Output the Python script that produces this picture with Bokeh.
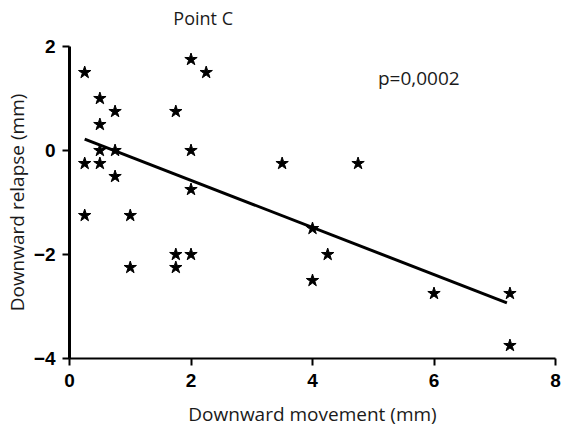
from bokeh.plotting import figure
from bokeh.models import Label, Range1d, FixedTicker
from bokeh.embed import file_html
from bokeh.resources import INLINE

# data
x_vals = [0.25, 0.25, 0.25,
          0.5, 0.5, 0.5, 0.5,
          0.75, 0.75, 0.75,
          1.0, 1.0,
          1.75, 1.75, 1.75,
          2.0, 2.0, 2.0, 2.0,
          2.25, 3.5, 4.75,
          4.0, 4.0, 4.25,
          6.0, 7.25, 7.25]
y_vals = [1.5, -0.25, -1.25,
          1.0, 0.5, 0.0, -0.25,
          0.75, 0.0, -0.5,
          -1.25, -2.25,
          0.75, -2.0, -2.25,
          1.75, 0.0, -0.75, -2.0,
          1.5, -0.25, -0.25,
          -1.5, -2.5, -2.0,
          -2.75, -2.75, -3.75]
fit_x = [0.25, 7.2]
fit_y = [0.22, -2.93]
x_ticks = [0, 2, 4, 6, 8]
y_ticks = [-4, -2, 0, 2]
title_text = "Point C"
p_text = "p=0,0002"
x_label = "Downward movement (mm)"
y_label = "Downward relapse (mm)"

p = figure(width=563, height=430, output_backend="svg", toolbar_location=None,
           x_range=Range1d(0, 8), y_range=Range1d(-4, 2),
           min_border_left=69, min_border_right=8, min_border_top=46, min_border_bottom=72)
p.xgrid.visible = False
p.ygrid.visible = False
p.outline_line_color = None
p.background_fill_color = "white"
p.border_fill_color = "white"

p.line(fit_x, fit_y, line_color="black", line_width=3)
p.scatter(x_vals, y_vals, marker="star", size=13, fill_color="black", line_color="black")

for ax, ticks in ((p.xaxis[0], x_ticks), (p.yaxis[0], y_ticks)):
    ax.ticker = FixedTicker(ticks=ticks)
    ax.minor_tick_line_color = None
    ax.major_tick_in = 0
    ax.major_tick_out = 7
    ax.major_tick_line_width = 2
    ax.major_tick_line_color = "black"
    ax.axis_line_color = "black"
    ax.major_label_text_font = "Liberation Sans"
    ax.major_label_text_font_style = "bold"
    ax.major_label_text_font_size = "19px"
    ax.major_label_text_color = "black"
    ax.axis_label_text_font = "Open Sans"
    ax.axis_label_text_font_style = "normal"
    ax.axis_label_text_font_size = "19px"
    ax.axis_label_text_color = "#1a1a1a"

p.xaxis[0].axis_line_width = 2
p.yaxis[0].axis_line_width = 3
p.xaxis[0].axis_label = x_label
p.yaxis[0].axis_label = y_label
p.xaxis[0].major_label_standoff = 8
p.yaxis[0].major_label_standoff = 7
p.xaxis[0].axis_label_standoff = 11
p.yaxis[0].axis_label_standoff = 1

# title placed in the top panel (not clipped to the plot frame)
p.add_layout(Label(x=2.2, y=2.54, text=title_text, text_font="Open Sans",
                   text_font_size="18px", text_align="center", text_baseline="middle",
                   text_color="#1a1a1a"), "above")
p.add_layout(Label(x=5.75, y=1.40, text=p_text, text_font="Open Sans",
                   text_font_size="19px", text_align="center", text_baseline="middle",
                   text_color="#1a1a1a"))

open("out.html", "w").write(file_html(p, INLINE))
